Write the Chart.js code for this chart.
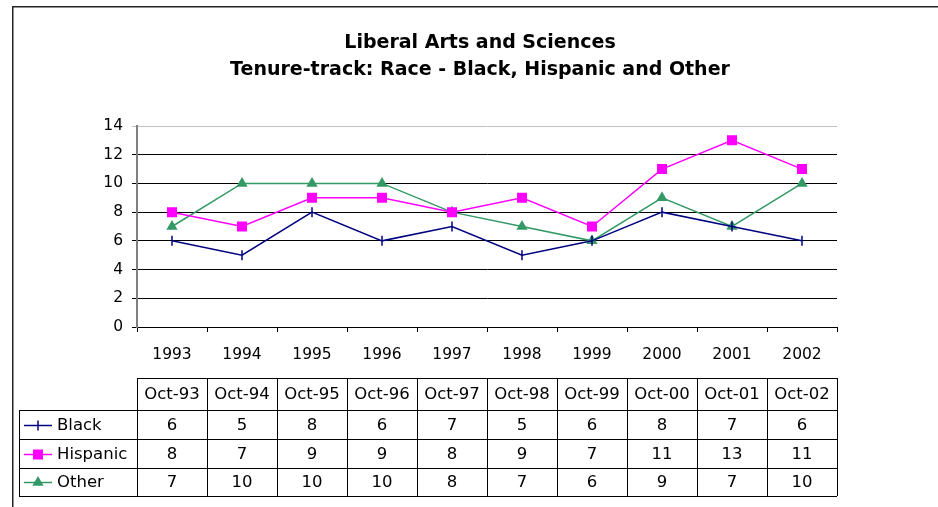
<!DOCTYPE html>
<html>
<head>
<meta charset="utf-8">
<script src="https://cdn.jsdelivr.net/npm/chart.js@4/dist/chart.umd.min.js"></script>
<style>
  html, body { margin: 0; padding: 0; background: #fff; }
</style>
</head>
<body>
<canvas id="chart" width="938" height="507"></canvas>
<script>
// Chart data
const titleLines = ['Liberal Arts and Sciences', 'Tenure-track: Race - Black, Hispanic and Other'];
const years = ['1993', '1994', '1995', '1996', '1997', '1998', '1999', '2000', '2001', '2002'];
const months = ['Oct-93', 'Oct-94', 'Oct-95', 'Oct-96', 'Oct-97', 'Oct-98', 'Oct-99', 'Oct-00', 'Oct-01', 'Oct-02'];
const black = [6, 5, 8, 6, 7, 5, 6, 8, 7, 6];
const hispanic = [8, 7, 9, 9, 8, 9, 7, 11, 13, 11];
const other = [7, 10, 10, 10, 8, 7, 6, 9, 7, 10];

const FONT = 'DejaVu Sans';

// frame + title
const frameAndTitle = {
    id: 'frameAndTitle',
    beforeDraw(chart) {
        const ctx = chart.ctx;
        ctx.save();
        ctx.fillStyle = '#fff';
        ctx.fillRect(0, 0, chart.width, chart.height);
        ctx.strokeStyle = '#222';
        ctx.lineWidth = 1.5;
        ctx.strokeRect(12.75, 6.75, chart.width + 20, chart.height + 20);
        ctx.fillStyle = '#000';
        ctx.font = `bold 19px "${FONT}"`;
        ctx.textAlign = 'center';
        ctx.textBaseline = 'middle';
        titleLines.forEach((t, i) => ctx.fillText(t, 480, 43 + i * 27));
        ctx.restore();
    }
};

// data table under the x axis
const dataTable = {
    id: 'dataTable',
    afterDraw(chart) {
        const ctx = chart.ctx;
        const x = chart.scales.x;
        const half = (x.getPixelForValue(1) - x.getPixelForValue(0)) / 2;
        const edges = months.map((m, i) => x.getPixelForValue(i) - half);
        edges.push(x.getPixelForValue(months.length - 1) + half);
        const rows = [378, 410, 439, 468, 496];
        const legendLeft = 19;
        const px = v => Math.round(v) + 0.5;

        ctx.save();
        ctx.strokeStyle = '#000';
        ctx.lineWidth = 1;
        ctx.beginPath();
        // horizontal lines
        ctx.moveTo(edges[0], px(rows[0])); ctx.lineTo(edges[edges.length - 1], px(rows[0]));
        for (let r = 1; r < rows.length; r++) {
            ctx.moveTo(legendLeft, px(rows[r])); ctx.lineTo(edges[edges.length - 1], px(rows[r]));
        }
        // vertical lines
        edges.forEach(e => { ctx.moveTo(px(e), rows[0]); ctx.lineTo(px(e), rows[4]); });
        ctx.moveTo(px(legendLeft), rows[1]); ctx.lineTo(px(legendLeft), rows[4]);
        ctx.stroke();

        ctx.fillStyle = '#000';
        ctx.font = `16.5px "${FONT}"`;
        ctx.textAlign = 'center';
        ctx.textBaseline = 'middle';
        months.forEach((m, i) => ctx.fillText(m, x.getPixelForValue(i), (rows[0] + rows[1]) / 2 + 1));

        chart.data.datasets.forEach((ds, r) => {
            const cy = (rows[r + 1] + rows[r + 2]) / 2 + 1;
            ds.data.forEach((v, i) => ctx.fillText(String(v), x.getPixelForValue(i), cy));
            // legend key
            const ly = Math.round(cy - 1) + 0.5;
            ctx.strokeStyle = ds.borderColor;
            ctx.lineWidth = 1.5;
            ctx.beginPath();
            ctx.moveTo(24, ly); ctx.lineTo(52, ly);
            ctx.stroke();
            ctx.fillStyle = ds.backgroundColor;
            Chart.helpers.drawPoint(ctx, {
                pointStyle: ds.pointStyle,
                rotation: ds.pointRotation || 0,
                radius: ds.pointRadius,
                borderWidth: ds.borderWidth
            }, 38, ly);
            ctx.fillStyle = '#000';
            ctx.textAlign = 'left';
            ctx.fillText(ds.label, 57, cy);
            ctx.textAlign = 'center';
        });
        ctx.restore();
    }
};

new Chart(document.getElementById('chart'), {
    type: 'line',
    data: {
        labels: years,
        datasets: [
            {
                label: 'Black', data: black,
                borderColor: '#000080', backgroundColor: '#000080', borderWidth: 1.5,
                pointStyle: 'line', pointRotation: 90, pointRadius: 5,
                pointBorderColor: '#000080', pointBorderWidth: 1.5
            },
            {
                label: 'Hispanic', data: hispanic,
                borderColor: '#ff00ff', backgroundColor: '#ff00ff', borderWidth: 1.5,
                pointStyle: 'rect', pointRadius: 6
            },
            {
                label: 'Other', data: other,
                borderColor: '#339966', backgroundColor: '#339966', borderWidth: 1.5,
                pointStyle: 'triangle', pointRadius: 5
            }
        ]
    },
    options: {
        responsive: false,
        animation: false,
        layout: { padding: { top: 126, right: 101, left: 0, bottom: 0 } },
        plugins: {
            legend: { display: false },
            title: { display: false },
            tooltip: { enabled: false }
        },
        elements: { line: { tension: 0 } },
        scales: {
            x: {
                offset: true,
                afterFit: s => { s.height = 180; },
                grid: { offset: true, drawOnChartArea: false, tickLength: 5, color: '#000' },
                border: { color: '#000', width: 1 },
                ticks: { color: '#000', padding: 14, font: { family: FONT, size: 15.5 } }
            },
            y: {
                min: 0, max: 14,
                afterFit: s => { s.width = 137; },
                grid: {
                    tickLength: 5,
                    color: c => (c.tick && c.tick.value === 14 ? '#c0c0c0' : '#000')
                },
                border: { color: '#808080', width: 2 },
                ticks: { stepSize: 2, color: '#000', padding: 9, font: { family: FONT, size: 15.5 } }
            }
        }
    },
    plugins: [frameAndTitle, dataTable]
});
</script>
</body>
</html>
